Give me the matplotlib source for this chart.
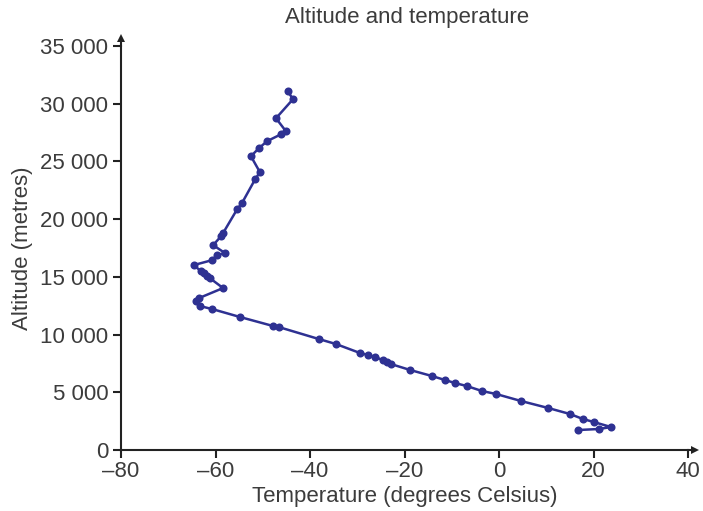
import matplotlib
matplotlib.use("Agg")
import matplotlib.pyplot as plt
from matplotlib.ticker import FuncFormatter

# Radiosonde profile: temperature (°C) against altitude (m), in ascent order
temperature = [16.7, 21.2, 23.7, 20.1, 17.8, 15.0, 10.4, 4.7, -0.6, -3.6,
               -6.8, -9.3, -11.4, -14.2, -18.8, -22.9, -23.7, -24.6, -26.2, -27.7,
               -29.4, -34.5, -38.1, -46.6, -47.8, -54.8, -60.7, -63.3, -64.1, -63.5,
               -58.4, -61.2, -61.8, -62.4, -63.1, -64.6, -60.7, -59.7, -58.0, -60.5,
               -58.8, -58.4, -55.4, -54.4, -51.6, -50.6, -52.5, -50.8, -49.1, -46.1,
               -45.1, -47.2, -43.6, -44.7]
altitude = [1730, 1820, 1990, 2420, 2680, 3120, 3640, 4240, 4850, 5110,
            5540, 5800, 6060, 6410, 6930, 7450, 7620, 7790, 8050, 8230,
            8400, 9180, 9610, 10650, 10740, 11520, 12210, 12470, 12900, 13160,
            14030, 14890, 15060, 15320, 15500, 16020, 16450, 16880, 17060, 17750,
            18530, 18790, 20870, 21390, 23460, 24070, 25450, 26150, 26750, 27360,
            27620, 28740, 30390, 31080]

x_ticks = [-80, -60, -40, -20, 0, 20, 40]
y_ticks = [0, 5000, 10000, 15000, 20000, 25000, 30000, 35000]

plt.rcParams['font.family'] = ['Liberation Sans', 'DejaVu Sans']
text_color = '#3c3c3c'
axis_color = '#222222'
line_color = '#2e3192'
fs = 16

fig = plt.figure(figsize=(7.03, 5.11), dpi=100)
ax = fig.add_axes([121 / 703, 61 / 511, 567 / 703, 404 / 511])

ax.plot(temperature, altitude, color=line_color, lw=1.8,
        marker='o', markersize=5.8, markeredgewidth=0, zorder=3)

ax.set_xlim(-80, 40)
ax.set_ylim(0, 35000)
ax.set_xticks(x_ticks)
ax.set_yticks(y_ticks)

def dash_fmt(v, pos):
    v = int(round(v))
    return ('\u2013' + str(-v)) if v < 0 else str(v)

def space_fmt(v, pos):
    return f"{int(round(v)):,}".replace(',', ' ')

ax.xaxis.set_major_formatter(FuncFormatter(dash_fmt))
ax.yaxis.set_major_formatter(FuncFormatter(space_fmt))

for s in ('top', 'right'):
    ax.spines[s].set_visible(False)
for s in ('left', 'bottom'):
    ax.spines[s].set_color(axis_color)
    ax.spines[s].set_linewidth(1.5)

ax.tick_params(axis='both', direction='out', length=6, width=1.5,
               color=axis_color, labelsize=fs, labelcolor=text_color)
ax.tick_params(axis='x', pad=2)
ax.tick_params(axis='y', pad=3)

# arrowheads at the ends of both axes
ax.plot(1.012, 0, marker='>', markersize=6, color=axis_color,
        transform=ax.transAxes, clip_on=False, markeredgewidth=0)
ax.plot(0, 1.02, marker='^', markersize=6, color=axis_color,
        transform=ax.transAxes, clip_on=False, markeredgewidth=0)
ax.plot([1, 1.012], [0, 0], color=axis_color, lw=1.5,
        transform=ax.transAxes, clip_on=False)
ax.plot([0, 0], [1, 1.02], color=axis_color, lw=1.5,
        transform=ax.transAxes, clip_on=False)

ax.set_xlabel('Temperature (degrees Celsius)', fontsize=fs, color=text_color)
ax.set_ylabel('Altitude (metres)', fontsize=fs, color=text_color)
ax.xaxis.set_label_coords(0.5, -0.114)
ax.yaxis.set_label_coords(-0.1746, 0.5)
ax.xaxis.label.set_va('center')
ax.yaxis.label.set_va('center')
fig.text(407.5 / 703, 1 - 18 / 511, 'Altitude and temperature', fontsize=fs,
         color=text_color, ha='center', va='center')

fig.savefig('out.png', dpi=100)
